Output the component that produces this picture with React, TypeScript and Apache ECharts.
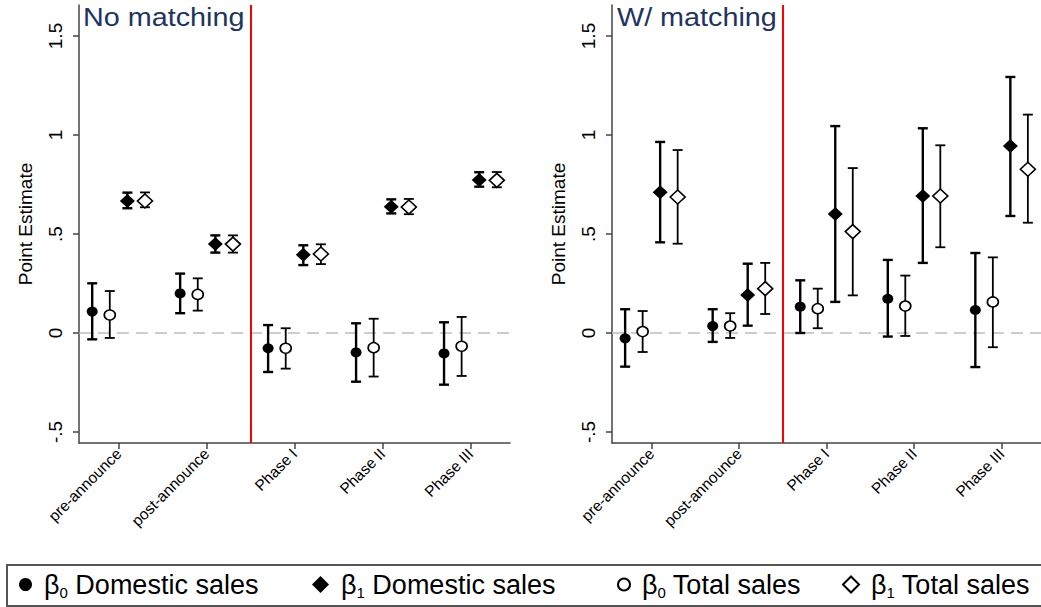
import React, { useEffect, useRef } from 'react';
import * as echarts from 'echarts';

// ---------- data ----------
const categories = ['pre-announce', 'post-announce', 'Phase I', 'Phase II', 'Phase III'];
const categoryPositions = [1, 2, 3, 4, 5];
const seriesNames = ['β0 Domestic sales', 'β1 Domestic sales', 'β0 Total sales', 'β1 Total sales'];
const panelTitles = ['No matching', 'W/ matching'];
const yTickValues = [-0.5, 0, 0.5, 1, 1.5];
const yTickLabels = ['-.5', '0', '.5', '1', '1.5'];
const eventLinePosition = 2.5;

// No matching panel
const nmB0DomEst = [0.108, 0.200, -0.077, -0.098, -0.103];
const nmB0DomLo = [-0.032, 0.100, -0.197, -0.246, -0.261];
const nmB0DomHi = [0.251, 0.300, 0.040, 0.049, 0.054];
const nmB0TotEst = [0.091, 0.195, -0.077, -0.074, -0.067];
const nmB0TotLo = [-0.025, 0.113, -0.180, -0.220, -0.217];
const nmB0TotHi = [0.212, 0.276, 0.024, 0.072, 0.081];
const nmB1DomEst = [0.667, 0.449, 0.395, 0.638, 0.773];
const nmB1DomLo = [0.630, 0.406, 0.343, 0.604, 0.739];
const nmB1DomHi = [0.709, 0.493, 0.443, 0.675, 0.812];
const nmB1TotEst = [0.667, 0.449, 0.399, 0.636, 0.771];
const nmB1TotLo = [0.635, 0.406, 0.348, 0.600, 0.736];
const nmB1TotHi = [0.710, 0.493, 0.448, 0.677, 0.813];

// W/ matching panel
const wmB0DomEst = [-0.027, 0.035, 0.133, 0.173, 0.116];
const wmB0DomLo = [-0.170, -0.045, 0.000, -0.018, -0.172];
const wmB0DomHi = [0.120, 0.120, 0.266, 0.369, 0.404];
const wmB0TotEst = [0.007, 0.035, 0.123, 0.136, 0.157];
const wmB0TotLo = [-0.096, -0.025, 0.024, -0.015, -0.072];
const wmB0TotHi = [0.111, 0.100, 0.224, 0.290, 0.382];
const wmB1DomEst = [0.711, 0.192, 0.601, 0.692, 0.944];
const wmB1DomLo = [0.458, 0.037, 0.157, 0.354, 0.591];
const wmB1DomHi = [0.965, 0.350, 1.045, 1.034, 1.293];
const wmB1TotEst = [0.687, 0.224, 0.512, 0.692, 0.827];
const wmB1TotLo = [0.451, 0.096, 0.190, 0.433, 0.557];
const wmB1TotHi = [0.924, 0.354, 0.833, 0.948, 1.103];

// ---------- layout / style ----------
const FONT = '"Liberation Sans", Arial, Helvetica, sans-serif';
const DODGE = [-0.3, 0.1, -0.1, 0.3]; // order follows seriesNames
const AXIS_COLOR = '#444';

const panels = [
  {
    est: [nmB0DomEst, nmB1DomEst, nmB0TotEst, nmB1TotEst],
    lo: [nmB0DomLo, nmB1DomLo, nmB0TotLo, nmB1TotLo],
    hi: [nmB0DomHi, nmB1DomHi, nmB0TotHi, nmB1TotHi],
  },
  {
    est: [wmB0DomEst, wmB1DomEst, wmB0TotEst, wmB1TotEst],
    lo: [wmB0DomLo, wmB1DomLo, wmB0TotLo, wmB1TotLo],
    hi: [wmB0DomHi, wmB1DomHi, wmB0TotHi, wmB1TotHi],
  },
];

const seriesStyle = [
  { symbol: 'circle', size: [11, 10], fill: '#000', border: 0, barWidth: 2.4 },
  { symbol: 'diamond', size: [15, 14], fill: '#000', border: 0, barWidth: 2.4 },
  { symbol: 'circle', size: [11, 10], fill: '#fff', border: 1.6, barWidth: 1.8 },
  { symbol: 'diamond', size: [15, 14], fill: '#fff', border: 1.6, barWidth: 1.8 },
];

const legendLefts = [19, 312, 617, 842];
const legendIcon = [13, 17, 12, 16];

function legendFormatter(name: string) {
  const m = name.match(/^β(\d) (.*)$/);
  if (!m) return name;
  return `{b|β}{s|${m[1]}}{t| ${m[2]}}`;
}

function buildOption() {
  const grids = [
    { left: 79, top: 5, width: 431, height: 438 },
    { left: 612, top: 5, width: 430, height: 438 },
  ];
  const xAxes = grids.map((_, gi) => ({
    type: 'value',
    gridIndex: gi,
    min: 0.55,
    max: 5.45,
    splitLine: { show: false },
    axisLine: { show: true, onZero: false, lineStyle: { color: AXIS_COLOR, width: 1.5 } },
    axisTick: {
      show: true,
      customValues: categoryPositions,
      length: 6,
      lineStyle: { color: AXIS_COLOR, width: 1.5 },
    },
    axisLabel: {
      customValues: categoryPositions,
      rotate: 45,
      margin: 8,
      fontSize: 15.5,
      fontFamily: FONT,
      color: '#000',
      formatter: (v: number) => categories[Math.round(v) - 1] ?? '',
    },
  }));
  const yAxes = grids.map((_, gi) => ({
    type: 'value',
    gridIndex: gi,
    min: -0.5556,
    max: 1.6566,
    name: 'Point Estimate',
    nameLocation: 'middle',
    nameGap: 44,
    nameTextStyle: { fontSize: 19, fontFamily: FONT, color: '#000' },
    splitLine: { show: false },
    axisLine: { show: true, onZero: false, lineStyle: { color: AXIS_COLOR, width: 1.5 } },
    axisTick: {
      show: true,
      customValues: yTickValues,
      length: 6,
      lineStyle: { color: AXIS_COLOR, width: 1.5 },
    },
    axisLabel: {
      customValues: yTickValues,
      rotate: 90,
      margin: 14,
      fontSize: 19,
      fontFamily: FONT,
      color: '#000',
      formatter: (v: number) => {
        const i = yTickValues.findIndex((t) => Math.abs(t - v) < 1e-6);
        return i >= 0 ? yTickLabels[i] : '';
      },
    },
  }));

  const series: any[] = [];
  panels.forEach((panel, pi) => {
    seriesNames.forEach((name, si) => {
      const st = seriesStyle[si];
      series.push({
        type: 'custom',
        xAxisIndex: pi,
        yAxisIndex: pi,
        z: 2,
        silent: true,
        encode: { x: 0, y: [1, 2] },
        data: categoryPositions.map((c, i) => [c + DODGE[si], panel.lo[si][i], panel.hi[si][i]]),
        renderItem: (params: any, api: any) => {
          const x = api.value(0);
          const top = api.coord([x, api.value(2)]);
          const bot = api.coord([x, api.value(1)]);
          const w = 5;
          const style = { stroke: '#000', lineWidth: st.barWidth };
          return {
            type: 'group',
            children: [
              { type: 'line', shape: { x1: top[0], y1: top[1], x2: bot[0], y2: bot[1] }, style },
              { type: 'line', shape: { x1: top[0] - w, y1: top[1], x2: top[0] + w, y2: top[1] }, style },
              { type: 'line', shape: { x1: bot[0] - w, y1: bot[1], x2: bot[0] + w, y2: bot[1] }, style },
            ],
          };
        },
      });
      const scatter: any = {
        type: 'scatter',
        name,
        xAxisIndex: pi,
        yAxisIndex: pi,
        z: 5,
        symbol: st.symbol,
        symbolSize: st.size,
        itemStyle: {
          color: st.fill,
          borderColor: '#000',
          borderWidth: st.border,
          opacity: 1,
        },
        data: categoryPositions.map((c, i) => [c + DODGE[si], panel.est[si][i]]),
      };
      if (si === 0) {
        scatter.markLine = {
          silent: true,
          symbol: ['none', 'none'],
          label: { show: false },
          z: 1,
          data: [
            { yAxis: 0, lineStyle: { color: '#bdbdbd', width: 1.5, type: [12, 7] } },
            { xAxis: eventLinePosition, lineStyle: { color: '#ff0000', width: 2, type: 'solid' } },
          ],
        };
      }
      series.push(scatter);
    });
  });

  const legends = seriesNames.map((name, i) => ({
    data: [name],
    left: legendLefts[i],
    top: 571,
    padding: 0,
    itemWidth: legendIcon[i],
    itemHeight: legendIcon[i],
    selectedMode: false,
    formatter: legendFormatter,
    textStyle: {
      color: '#000',
      fontFamily: FONT,
      fontSize: 27,
      rich: {
        b: { fontSize: 27, fontFamily: FONT, color: '#000', lineHeight: 30, verticalAlign: 'middle', padding: [0, 0, 0, 7] },
        s: { fontSize: 15, fontFamily: FONT, color: '#000', lineHeight: 18, verticalAlign: 'bottom' },
        t: { fontSize: 27, fontFamily: FONT, color: '#000', lineHeight: 30, verticalAlign: 'middle' },
      },
    },
  }));

  const titleX = [83, 617];
  const graphic: any[] = panelTitles.map((t, i) => ({
    type: 'text',
    x: titleX[i],
    y: 18,
    scaleX: 1.15,
    z: 10,
    style: {
      text: t,
      fontSize: 25,
      fontFamily: FONT,
      fill: '#22345e',
      verticalAlign: 'middle',
    },
  }));
  graphic.push({
    type: 'rect',
    shape: { x: 7, y: 565, width: 1045, height: 41 },
    style: { fill: 'none', stroke: '#555', lineWidth: 2 },
    z: 0,
  });

  return {
    animation: false,
    backgroundColor: '#fff',
    grid: grids,
    xAxis: xAxes,
    yAxis: yAxes,
    legend: legends,
    graphic,
    series,
  };
}

export default function App() {
  const ref = useRef<HTMLDivElement>(null);
  useEffect(() => {
    if (!ref.current) return;
    const chart = echarts.init(ref.current, undefined, { renderer: 'svg' });
    chart.setOption(buildOption() as any);
    return () => chart.dispose();
  }, []);
  return (
    <div
      ref={ref}
      style={{ position: 'absolute', left: 0, top: 0, width: 1041, height: 607, background: '#fff' }}
    />
  );
}
